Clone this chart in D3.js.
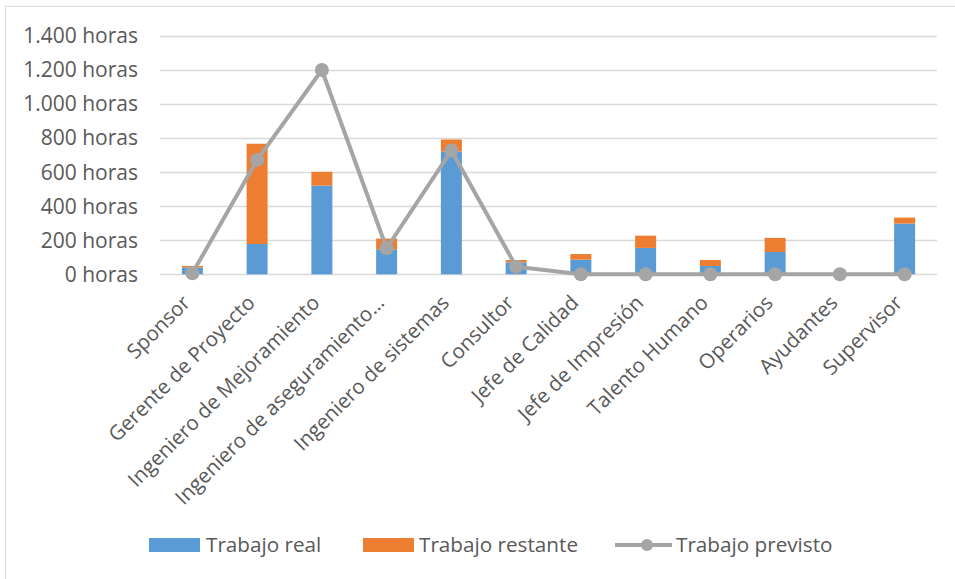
<!DOCTYPE html>
<html>
<head>
<meta charset="utf-8">
<script src="https://cdn.jsdelivr.net/npm/d3@7"></script>
<style>
  body { margin: 0; background: #fff; }
  svg { display: block; font-family: "Open Sans", sans-serif; }
</style>
</head>
<body>
<svg width="955" height="579"></svg>
<script>
// roles (categories)
var roles = ["Sponsor", "Gerente de Proyecto", "Ingeniero de Mejoramiento",
  "Ingeniero de aseguramiento…", "Ingeniero de sistemas", "Consultor",
  "Jefe de Calidad", "Jefe de Impresión", "Talento Humano", "Operarios",
  "Ayudantes", "Supervisor"];
// hours
var trabajoReal     = [40, 178, 521, 147, 721, 70, 86, 155, 49, 131, 0, 298];
var trabajoRestante = [9, 589, 81, 63, 71, 14, 33, 72, 35, 83, 0, 35];
var trabajoPrevisto = [6, 672, 1200, 153, 727, 45, 0, 0, 0, 0, 0, 0];
var yTicks = [0, 200, 400, 600, 800, 1000, 1200, 1400];

var blue = "#5B9BD5", orange = "#ED7D31", gray = "#A5A5A5", txt = "#595959";

var svg = d3.select("svg");

// outer frame (left and top edges visible)
svg.append("rect").attr("x", 5.5).attr("y", 6.5).attr("width", 1000).attr("height", 700)
  .attr("fill", "none").attr("stroke", "#D9D9D9");

var x = d3.scaleBand().domain(roles).range([160, 937])
  .paddingInner(0.676).paddingOuter(0.338);
var y = d3.scaleLinear().domain([0, 1400]).range([274.3, 36]);

function fmt(v) { return d3.format(",")(v).replace(/,/g, ".") + " horas"; }

// grid
svg.append("g").selectAll("line").data(yTicks).enter().append("line")
  .attr("x1", 160).attr("x2", 937)
  .attr("y1", function(d) { return Math.round(y(d)) + 0.5; })
  .attr("y2", function(d) { return Math.round(y(d)) + 0.5; })
  .attr("stroke", "#D9D9D9").attr("stroke-width", 1.5);

// y labels
svg.append("g").selectAll("text").data(yTicks).enter().append("text")
  .attr("x", 138).attr("y", function(d) { return y(d); })
  .attr("dy", "0.35em").attr("text-anchor", "end")
  .attr("font-size", 21).attr("fill", txt)
  .text(fmt);

// stacked bars
var stacked = roles.map(function(r, i) {
  return { role: r, real: trabajoReal[i], rest: trabajoRestante[i] };
});
var bars = svg.append("g");
bars.selectAll("rect.real").data(stacked).enter().append("rect")
  .attr("class", "real")
  .attr("x", function(d) { return x(d.role); })
  .attr("width", x.bandwidth())
  .attr("y", function(d) { return y(d.real); })
  .attr("height", function(d) { return y(0) - y(d.real); })
  .attr("fill", blue);
bars.selectAll("rect.rest").data(stacked).enter().append("rect")
  .attr("class", "rest")
  .attr("x", function(d) { return x(d.role); })
  .attr("width", x.bandwidth())
  .attr("y", function(d) { return y(d.real + d.rest); })
  .attr("height", function(d) { return y(d.real) - y(d.real + d.rest); })
  .attr("fill", orange);

// planned work line
var cx = function(d, i) { return x(roles[i]) + x.bandwidth() / 2; };
svg.append("path").datum(trabajoPrevisto)
  .attr("fill", "none").attr("stroke", gray).attr("stroke-width", 4)
  .attr("stroke-linejoin", "round")
  .attr("d", d3.line().x(cx).y(function(d) { return y(d); }));
svg.append("g").selectAll("circle").data(trabajoPrevisto).enter().append("circle")
  .attr("cx", cx).attr("cy", function(d) { return y(d); })
  .attr("r", 7).attr("fill", gray);

// x labels, rotated
svg.append("g").selectAll("text").data(roles).enter().append("text")
  .attr("transform", function(d) {
    return "translate(" + (x(d) + x.bandwidth() / 2 - 1) + ",304) rotate(-45)";
  })
  .attr("text-anchor", "end").attr("font-size", 20.5).attr("fill", txt)
  .text(function(d) { return d; });

// legend
var lg = svg.append("g").attr("font-size", 20.7).attr("fill", txt);
lg.append("rect").attr("x", 149).attr("y", 538).attr("width", 51).attr("height", 14).attr("fill", blue);
lg.append("text").attr("x", 206).attr("y", 545).attr("dy", "0.35em").text("Trabajo real");
lg.append("rect").attr("x", 363).attr("y", 538).attr("width", 51).attr("height", 14).attr("fill", orange);
lg.append("text").attr("x", 419).attr("y", 545).attr("dy", "0.35em").text("Trabajo restante");
lg.append("line").attr("x1", 615).attr("x2", 672).attr("y1", 545).attr("y2", 545)
  .attr("stroke", gray).attr("stroke-width", 4);
lg.append("circle").attr("cx", 647).attr("cy", 545).attr("r", 6).attr("fill", gray);
lg.append("text").attr("x", 676).attr("y", 545).attr("dy", "0.35em").text("Trabajo previsto");
</script>
</body>
</html>
